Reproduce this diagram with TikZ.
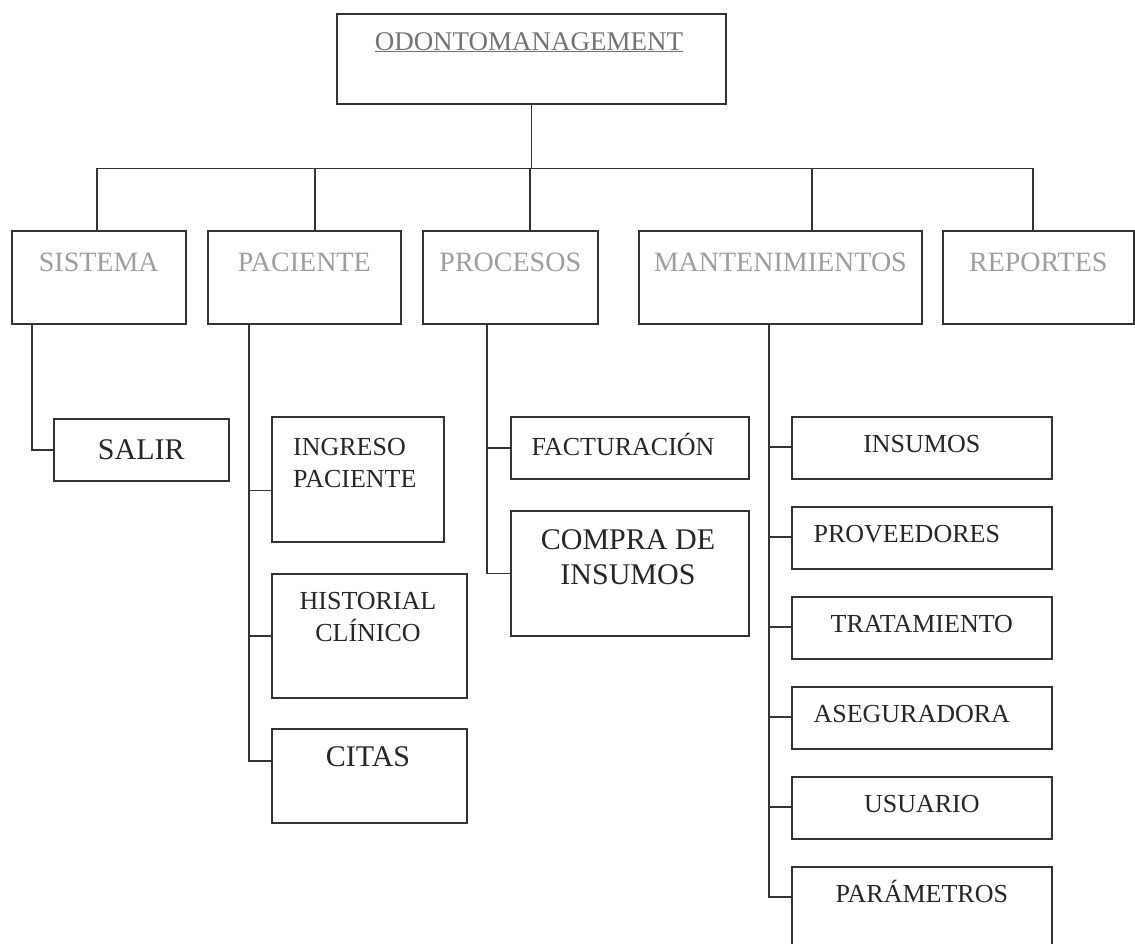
\documentclass[tikz,border=0pt]{standalone}
\usepackage{fontspec}
\setmainfont{Liberation Serif}
\usetikzlibrary{calc}
\tikzset{
    box/.style={
        draw=black!80,
        line width=1.6pt,
        rectangle,
        inner sep=0pt,
        anchor=north west
    },
    head/.style={font=\fontsize{28}{34}\selectfont, text=black!38, anchor=base, inner sep=0pt},
    leaf/.style={font=\fontsize{26}{32}\selectfont, text=black!85, inner sep=0pt},
    bigleaf/.style={font=\fontsize{30}{35}\selectfont, text=black!85, inner sep=0pt},
    link/.style={draw=black!80, line width=1.6pt}
}

\begin{document}
\begin{tikzpicture}[x=1pt, y=-1pt]
  \useasboundingbox (0,0) rectangle (1135,943);
  \clip (0,0) rectangle (1135,943);

  % Root
  \node[box, minimum width=389pt, minimum height=90pt] (root) at (336,13) {};
  \node[font=\fontsize{27}{32}\selectfont, text=black!55, anchor=base, inner sep=0pt] (root-t) at (529,50) {\underline{ODONTOMANAGEMENT}};

  % Main menu
  \foreach \n/\x/\w/\t in {sis/11/174/SISTEMA, pac/207/193/PACIENTE, pro/422/175/PROCESOS, man/638/283/MANTENIMIENTOS, rep/942/191/REPORTES} {
    \node[box, minimum width=\w pt, minimum height=93pt] (\n) at (\x,230) {};
    \node[head] (\n-t) at ($(\n.north)+(0,41)$) {\t};
  }

  % Connect root to main menu
  \foreach \n/\d in {sis/86, pac/108, pro/108, man/174, rep/91} {
    \draw[link] (root.south) -- ++(0,64) -| ($(\n.north west)+(\d,0)$);
  }

  % Sistema
  \node[box, minimum width=175pt, minimum height=62pt] (sal) at (53,418) {};
  \node[bigleaf] (sal-t) at (sal.center) {SALIR};
  \draw[link] ($(sis.south west)+(21,0)$) |- (sal.west);

  % Paciente
  \node[box, minimum width=172pt, minimum height=125pt] (ing) at (271,416) {};
  \node[box, minimum width=195pt, minimum height=124pt] (his) at (271,573) {};
  \node[box, minimum width=195pt, minimum height=94pt] (cit) at (271,728) {};
  \node[leaf, anchor=north west, align=left] (ing-t) at (293,438) {INGRESO\\PACIENTE};
  \node[leaf, anchor=north, align=center] (his-t) at (368,592) {HISTORIAL\\CLÍNICO};
  \node[bigleaf] (cit-t) at (368,757) {CITAS};
  \foreach \n/\dy in {ing/11, his/0, cit/-15} {
    \draw[link] ($(pac.south west)+(42,0)$) |- ($(\n.west)+(0,\dy)$);
  }

  % Procesos
  \node[box, minimum width=238pt, minimum height=62pt] (fac) at (510,416) {};
  \node[box, minimum width=238pt, minimum height=125pt] (com) at (510,510) {};
  \node[leaf, anchor=base] (fac-t) at (623,455) {FACTURACIÓN};
  \node[bigleaf, anchor=north, align=center] (com-t) at (628,529) {COMPRA DE\\INSUMOS};
  \foreach \n in {fac, com} {
    \draw[link] ($(pro.south west)+(65,0)$) |- (\n.west);
  }

  % Mantenimientos
  \foreach \n/\y/\h/\dx/\t in {ins/416/62/0/INSUMOS, prv/506/62/-15/PROVEEDORES, tra/596/62/0/TRATAMIENTO, ase/686/62/-10/ASEGURADORA, usu/776/62/0/USUARIO, par/866/90/0/PARÁMETROS} {
    \node[box, minimum width=260pt, minimum height=\h pt] (\n) at (791,\y) {};
    \node[leaf, anchor=base] (\n-t) at ($(\n.north)+(\dx,36)$) {\t};
    \draw[link] ($(man.south west)+(131,0)$) |- ($(\n.north west)+(0,31)$);
  }
\end{tikzpicture}
\end{document}
